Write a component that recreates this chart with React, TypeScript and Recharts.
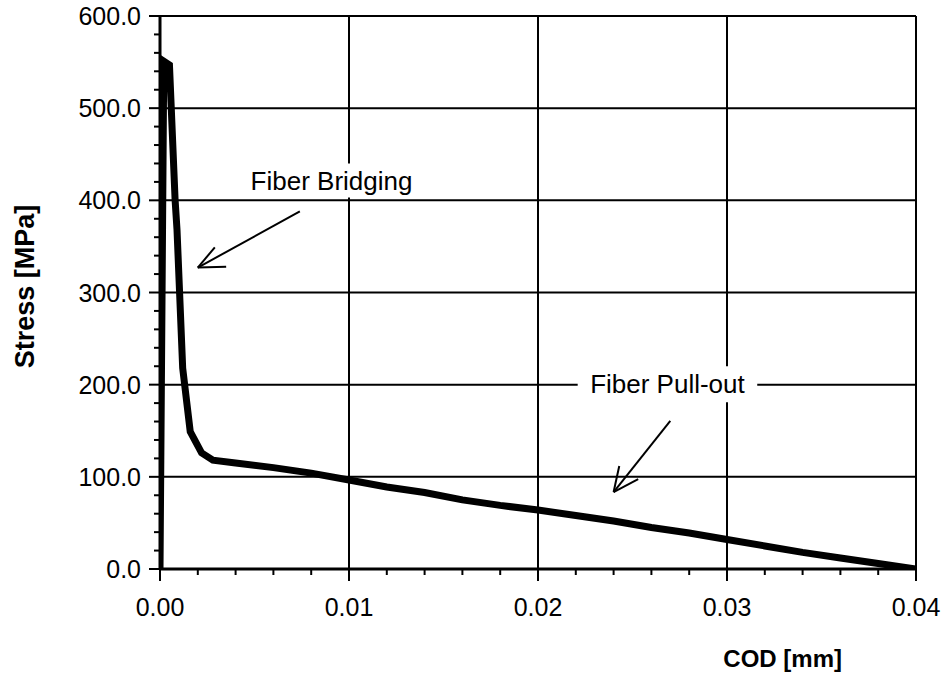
import { LineChart, Line, XAxis, YAxis, CartesianGrid, ReferenceArea, ReferenceLine } from 'recharts';

// COD [mm] vs Stress [MPa]
const codValues = [
  0, 0.0002, 0.0005, 0.0008, 0.0009, 0.0012, 0.0016, 0.0022, 0.0028, 0.004,
  0.006, 0.008, 0.01, 0.012, 0.014, 0.016, 0.018, 0.02, 0.022, 0.024,
  0.026, 0.028, 0.03, 0.032, 0.034, 0.036, 0.038, 0.04,
];
const stressValues = [
  0, 551, 547, 400, 368, 218, 149, 126, 118, 115,
  110, 104, 96.6, 89, 83, 75, 69, 64, 58, 52,
  45, 39, 32, 25, 18, 12, 6, 0,
];

const xTicks = [
  0, 0.002, 0.004, 0.006, 0.008, 0.01, 0.012, 0.014, 0.016, 0.018, 0.02,
  0.022, 0.024, 0.026, 0.028, 0.03, 0.032, 0.034, 0.036, 0.038, 0.04,
];
const xMajorTicks = [0, 0.01, 0.02, 0.03, 0.04];
const yTicks = [
  0, 20, 40, 60, 80, 100, 120, 140, 160, 180, 200, 220, 240, 260, 280, 300,
  320, 340, 360, 380, 400, 420, 440, 460, 480, 500, 520, 540, 560, 580, 600,
];
const yMajorTicks = [0, 100, 200, 300, 400, 500, 600];

const data = codValues.map((cod, i) => ({ cod, stress: stressValues[i] }));

// annotations (data coordinates)
const bridgingBox = { x1: 0.0045, x2: 0.01365, y1: 403, y2: 440 };
const pullOutBox = { x1: 0.0221, x2: 0.0316, y1: 181, y2: 220 };
const arrows = [
  { from: { x: 0.0074, y: 388 }, to: { x: 0.002, y: 327 }, barbs: [{ x: 0.0029, y: 349 }, { x: 0.0035, y: 328 }] },
  { from: { x: 0.027, y: 160.6 }, to: { x: 0.024, y: 83.5 }, barbs: [{ x: 0.0243, y: 111.7 }, { x: 0.0253, y: 97.6 }] },
];

const FONT = 'Liberation Sans, Arial, sans-serif';

const BottomTick = (props: any) => {
  const { x, y, payload } = props;
  const major = xMajorTicks.includes(payload.value);
  return (
    <g>
      <line x1={x} y1={y} x2={x} y2={y + (major ? 12 : 6)} stroke="#000" strokeWidth={2} />
      {major && (
        <text x={x} y={y + 47} textAnchor="middle" fontSize={25} fontFamily={FONT} fill="#000">
          {payload.value.toFixed(2)}
        </text>
      )}
    </g>
  );
};

const TopTick = (props: any) => {
  const { x, y, payload } = props;
  const major = xMajorTicks.includes(payload.value);
  return <line x1={x} y1={y} x2={x} y2={y - (major ? 12 : 6)} stroke="#000" strokeWidth={2} />;
};

const LeftTick = (props: any) => {
  const { x, y, payload } = props;
  const major = yMajorTicks.includes(payload.value);
  return (
    <g>
      <line x1={x} y1={y} x2={x - (major ? 11 : 6)} y2={y} stroke="#000" strokeWidth={2} />
      {major && (
        <text x={x - 19} y={y + 9} textAnchor="end" fontSize={25} fontFamily={FONT} fill="#000">
          {payload.value.toFixed(1)}
        </text>
      )}
    </g>
  );
};

const RightTick = (props: any) => {
  const { x, y, payload } = props;
  const major = yMajorTicks.includes(payload.value);
  return <line x1={x} y1={y} x2={x + (major ? 11 : 6)} y2={y} stroke="#000" strokeWidth={2} />;
};

export default function App() {
  return (
    <div style={{ position: 'absolute', left: 0, top: 0, width: 946, height: 677, background: '#fff' }}>
      <LineChart
        width={946}
        height={677}
        data={data}
        margin={{ top: 16, right: 30, bottom: 0, left: 0 }}
        style={{ fontFamily: FONT }}
      >
        <CartesianGrid
          stroke="#000"
          strokeWidth={2}
          horizontalValues={yMajorTicks}
          verticalValues={xMajorTicks}
        />
        <XAxis
          dataKey="cod"
          type="number"
          domain={[0, 0.04]}
          allowDataOverflow
          ticks={xTicks}
          interval={0}
          height={108}
          tickSize={0}
          tickMargin={0}
          tickLine={false}
          tick={<BottomTick />}
          axisLine={{ stroke: '#000', strokeWidth: 3 }}
          label={{
            content: ({ viewBox }: any) => (
              <text
                x={viewBox.x + viewBox.width - 74}
                y={viewBox.y + viewBox.height - 10}
                textAnchor="end"
                fontSize={24}
                fontWeight="bold"
                fontFamily={FONT}
                fill="#000"
              >
                COD [mm]
              </text>
            ),
          }}
        />
        <XAxis
          xAxisId="top"
          orientation="top"
          type="number"
          domain={[0, 0.04]}
          allowDataOverflow
          ticks={xTicks}
          interval={0}
          height={0}
          tickSize={0}
          tickMargin={0}
          tickLine={false}
          tick={<TopTick />}
          axisLine={{ stroke: '#000', strokeWidth: 3 }}
        />
        <YAxis
          type="number"
          domain={[0, 600]}
          allowDataOverflow
          ticks={yTicks}
          interval={0}
          width={160}
          tickSize={0}
          tickMargin={0}
          tickLine={false}
          tick={<LeftTick />}
          axisLine={{ stroke: '#000', strokeWidth: 3 }}
          label={{
            content: ({ viewBox }: any) => (
              <text
                transform={`translate(25, ${viewBox.y + viewBox.height / 2 - 6}) rotate(-90)`}
                textAnchor="middle"
                dominantBaseline="central"
                fontSize={27}
                fontWeight="bold"
                fontFamily={FONT}
                fill="#000"
              >
                Stress [MPa]
              </text>
            ),
          }}
        />
        <YAxis
          yAxisId="right"
          orientation="right"
          type="number"
          domain={[0, 600]}
          allowDataOverflow
          ticks={yTicks}
          interval={0}
          width={0}
          tickSize={0}
          tickMargin={0}
          tickLine={false}
          tick={<RightTick />}
          axisLine={{ stroke: '#000', strokeWidth: 3 }}
        />
        <ReferenceArea
          x1={bridgingBox.x1}
          x2={bridgingBox.x2}
          y1={bridgingBox.y1}
          y2={bridgingBox.y2}
          fill="#fff"
          fillOpacity={1}
          stroke="none"
          label={{ value: 'Fiber Bridging', position: 'center', fontSize: 26, fill: '#000' }}
        />
        <ReferenceArea
          x1={pullOutBox.x1}
          x2={pullOutBox.x2}
          y1={pullOutBox.y1}
          y2={pullOutBox.y2}
          fill="#fff"
          fillOpacity={1}
          stroke="none"
          label={{ value: 'Fiber Pull-out', position: 'center', fontSize: 26, fill: '#000' }}
        />
        {arrows.map((a, i) => (
          <ReferenceLine key={`shaft${i}`} segment={[a.from, a.to]} stroke="#000" strokeWidth={2} ifOverflow="visible" />
        ))}
        {arrows.flatMap((a, i) =>
          a.barbs.map((b, j) => (
            <ReferenceLine key={`barb${i}-${j}`} segment={[a.to, b]} stroke="#000" strokeWidth={2} ifOverflow="visible" />
          ))
        )}
        <Line
          type="linear"
          dataKey="stress"
          stroke="#000"
          strokeWidth={7}
          strokeLinejoin="miter"
          dot={false}
          activeDot={false}
          isAnimationActive={false}
        />
      </LineChart>
    </div>
  );
}
